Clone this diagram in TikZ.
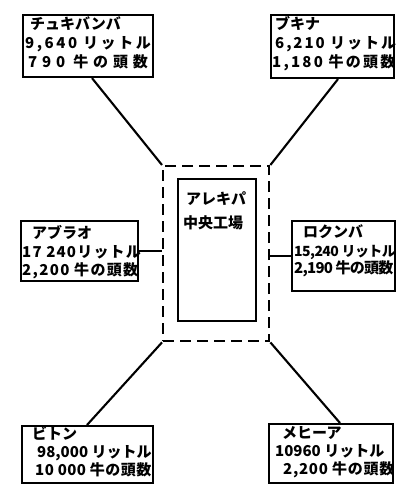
\documentclass[tikz,border=0pt]{standalone}
\usepackage{fontspec}
\setmainfont{Noto Sans CJK JP}
\newcommand\spc[2]{{\addfontfeatures{LetterSpace=#1}#2}}
\begin{document}
\begin{tikzpicture}[x=1pt,y=-1pt,
  box/.style={draw,line width=2.1pt,inner sep=0pt,anchor=north west},
  lab/.style={anchor=base west,inner sep=0pt,font=\bfseries\fontsize{15}{15}\selectfont},
  conn/.style={line width=2.1pt},
  dash box/.style={draw,line width=2.4pt,dash pattern=on 11pt off 6pt,inner sep=0pt,anchor=north west}]
\useasboundingbox (0,0) rectangle (396,484);

% central plant
\node[dash box,minimum width=106pt,minimum height=175pt] (outer) at (162,165) {};
\node[box,minimum width=78pt,minimum height=142pt] (inner) at (177,178) {};
\node[lab] (c1) at (186,204) {アレキパ};
\node[lab] (c2) at (183,228) {中央工場};

% top left
\node[box,minimum width=130pt,minimum height=62pt] (tl) at (22,14) {};
\node[lab] (tl1) at (30,30) {チュキバンバ};
\node[lab] (tl2) at (25,49) {\spc{17}{9,640 リットル}};
\node[lab] (tl3) at (28,68) {\spc{32}{790 牛の頭数}};

% top right
\node[box,minimum width=123pt,minimum height=63pt] (tr) at (270,14) {};
\node[lab] (tr1) at (275,30) {ブキナ};
\node[lab] (tr2) at (275,49) {\spc{13}{6,210 リットル}};
\node[lab] (tr3) at (272,68) {\spc{15}{1,180 牛の頭数}};

% middle left
\node[box,minimum width=117pt,minimum height=60pt] (ml) at (20,220) {};
\node[lab] (ml1) at (32,238) {アブラオ};
\node[lab] (ml2) at (22,257) {\spc{8}{17 240リットル}};
\node[lab] (ml3) at (22,275) {\spc{9}{2,200 牛の頭数}};

% middle right
\node[box,minimum width=103pt,minimum height=70pt] (mr) at (291,220) {};
\node[lab] (mr1) at (303,237) {ロクンバ};
\node[lab,font=\bfseries\fontsize{14}{14}\selectfont] (mr2) at (294,256) {\spc{-4}{15,240 リットル}};
\node[lab] (mr3) at (294,273) {\spc{-5}{2,190 牛の頭数}};

% bottom left
\node[box,minimum width=131pt,minimum height=57pt] (bl) at (21,425) {};
\node[lab] (bl1) at (32,439) {ビトン};
\node[lab] (bl2) at (37,457) {98,000 リットル};
\node[lab] (bl3) at (35,475) {\spc{3}{10 000 牛の頭数}};

% bottom right
\node[box,minimum width=124pt,minimum height=59pt] (br) at (268,423) {};
\node[lab] (br1) at (282,438) {メヒーア};
\node[lab] (br2) at (275,456) {10960 リットル};
\node[lab] (br3) at (283,474) {\spc{5}{2,200 牛の頭数}};

% connectors
\draw[conn] ([xshift=70pt]tl.south west) -- (outer.north west);
\draw[conn] ([xshift=68pt]tr.south west) -- (outer.north east);
\draw[conn] (ml.east) -- (ml.east -| outer.west);
\draw[conn] (outer.east |- mr.west) -- (mr.west);
\draw[conn] ([xshift=66pt]bl.north west) -- (outer.south west);
\draw[conn] ([xshift=72pt]br.north west) -- (outer.south east);
\end{tikzpicture}
\end{document}
